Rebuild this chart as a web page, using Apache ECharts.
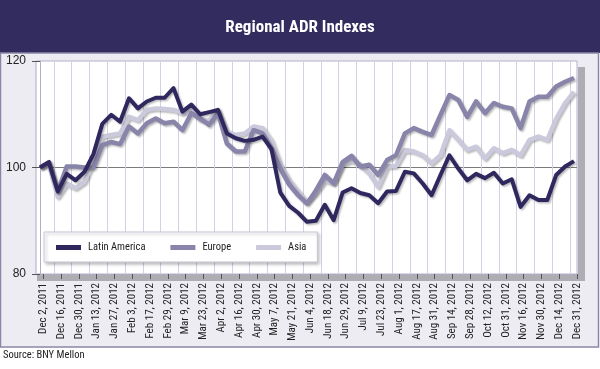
<!DOCTYPE html>
<html>
<head>
<meta charset="utf-8">
<script src="https://cdn.jsdelivr.net/npm/echarts@6.0.0/dist/echarts.min.js"></script>
<style>
html,body{margin:0;padding:0;background:#fff;}
#chart{width:600px;height:369px;}
</style>
</head>
<body>
<div id="chart"></div>
<script>
// Tick labels (every other weekly observation)
const tickLabels = ["Dec 2, 2011","Dec 16, 2011","Dec 30, 2011","Jan 13, 2012","Jan 27, 2012","Feb 3, 2012","Feb 17, 2012","Feb 29, 2012","Mar 9, 2012","Mar 23, 2012","Apr 2, 2012","Apr 16, 2012","Apr 30, 2012","May 7, 2012","May 21, 2012","Jun 4, 2012","Jun 18, 2012","Jun 29, 2012","Jul 9, 2012","Jul 23, 2012","Aug 1, 2012","Aug 17, 2012","Aug 31, 2012","Sep 14, 2012","Sep 28, 2012","Oct 12, 2012","Oct 31, 2012","Nov 16, 2012","Nov 30, 2012","Dec 14, 2012","Dec 31, 2012"];

// Weekly index values
const latinAmerica = [100.0,101.0,95.5,98.8,97.6,99.2,102.5,108.2,109.9,108.6,
  113.0,111.1,112.4,113.1,113.1,114.9,110.5,111.8,110.0,110.4,
  110.8,106.4,105.5,105.0,105.2,105.8,103.5,95.3,92.8,91.5,
  89.8,90.0,93.0,90.1,95.3,96.1,95.2,94.8,93.3,95.5,
  95.6,99.2,98.9,97.0,94.8,98.6,102.3,99.8,97.6,98.8,
  98.0,99.0,97.0,97.8,92.6,94.8,93.9,93.9,98.6,100.2,101.2];
const europe = [100.0,101.0,95.5,100.2,100.2,100.0,100.0,104.2,104.8,104.4,
  107.7,106.4,108.3,109.2,108.3,108.6,107.0,110.2,109.2,108.0,
  110.2,104.5,103.0,103.0,107.0,106.4,103.5,99.8,96.8,94.8,
  93.2,95.7,98.6,97.0,101.0,102.2,100.2,100.5,98.6,101.4,
  102.3,106.4,107.4,106.7,106.1,109.9,113.6,112.7,109.5,112.4,
  110.2,112.1,111.4,111.1,107.4,112.4,113.3,113.3,115.2,116.1,116.8];
const asia = [100.0,100.5,94.5,97.0,96.1,97.3,101.1,105.8,106.1,106.4,
  109.5,108.9,110.8,111.1,111.0,110.8,110.2,110.8,109.0,108.8,
  110.8,106.7,106.1,106.4,107.7,107.4,105.0,100.5,97.6,95.5,
  93.5,95.2,97.6,97.0,100.5,101.3,100.5,98.9,96.4,100.2,
  100.3,103.3,103.0,102.3,100.8,102.3,107.0,105.2,103.3,103.9,
  101.7,103.6,102.7,103.3,102.3,105.2,105.8,105.2,109.2,112.1,114.2];

const FONT = "'Roboto Condensed', 'Roboto', sans-serif";
const colors = { la: '#2f285f', eu: '#8985aa', as: '#cbc9dc' };

const toPairs = arr => arr.map((v, i) => [i, v]);
const lineShadow = { shadowColor: 'rgba(0,0,0,0.28)', shadowBlur: 2, shadowOffsetX: 1.5, shadowOffsetY: 1.5 };

const chart = echarts.init(document.getElementById('chart'), null, { renderer: 'canvas' });
chart.setOption({
  backgroundColor: '#ffffff',
  animation: false,
  title: {
    text: 'Regional ADR Indexes',
    left: 'center',
    top: 14,
    textStyle: { color: '#ffffff', fontSize: 17, fontWeight: 'bold', fontFamily: FONT }
  },
  graphic: [
    { type: 'rect', z: -10, shape: { x: 0, y: 0, width: 600, height: 53 }, style: { fill: '#332c5f' } },
    { type: 'rect', z: -10, shape: { x: 0.5, y: 53, width: 598, height: 294 }, style: { fill: '#edecf2', stroke: '#8a86a8', lineWidth: 1.5 } },
    { type: 'rect', z: -5, shape: { x: 577, y: 67, width: 8, height: 214 }, style: { fill: '#aeadb4' } },
    { type: 'rect', z: -5, shape: { x: 37, y: 274, width: 548, height: 7 }, style: { fill: '#aeadb4' } },
    { type: 'text', z: 5, left: 3, top: 350, style: { text: 'Source: BNY Mellon', fill: '#222', font: '10.5px ' + FONT } }
  ],
  legend: {
    left: 44,
    top: 232,
    orient: 'horizontal',
    icon: 'rect',
    itemWidth: 25,
    itemHeight: 5,
    itemGap: 25,
    padding: [10, 11, 9, 12],
    backgroundColor: '#ffffff',
    borderColor: '#c9c7d8',
    borderWidth: 1,
    shadowColor: 'rgba(0,0,0,0.25)',
    shadowBlur: 3,
    shadowOffsetX: 2,
    shadowOffsetY: 2,
    textStyle: { fontSize: 10.5, color: '#222', fontFamily: FONT, padding: [0, 0, 0, 2] },
    data: ['Latin America', 'Europe', 'Asia']
  },
  grid: {
    left: 36, right: 23, top: 61, bottom: 95,
    show: true,
    backgroundColor: '#ffffff',
    borderColor: '#b3aecb',
    borderWidth: 1
  },
  xAxis: [
    {
      type: 'value',
      min: -0.45,
      max: 60.34,
      interval: 2,
      axisLine: { show: false },
      axisTick: { show: false },
      axisLabel: { show: false },
      splitLine: { show: true, lineStyle: { color: '#d3d0e3', width: 1 } }
    },
    {
      type: 'value',
      position: 'bottom',
      min: -0.41,
      max: 30,
      axisLine: { show: false },
      splitLine: { show: false },
      axisTick: {
        show: true, length: 5, inside: false,
        customValues: tickLabels.map((_, i) => i),
        lineStyle: { color: '#555', width: 1 }
      },
      axisLabel: {
        show: true,
        rotate: 90,
        margin: 9,
        customValues: tickLabels.map((_, i) => i),
        formatter: v => tickLabels[Math.round(v)] || '',
        fontSize: 11,
        color: '#222',
        fontFamily: FONT
      }
    }
  ],
  yAxis: {
    type: 'value',
    min: 80,
    max: 120,
    interval: 20,
    axisLine: { show: true, lineStyle: { color: '#b3aecb' } },
    axisTick: { show: true, length: 8, lineStyle: { color: '#555' } },
    axisLabel: { margin: 10, fontSize: 12, color: '#222', fontFamily: "'Liberation Sans', sans-serif" },
    splitLine: { show: true, lineStyle: { color: ['rgba(0,0,0,0)', '#7a7a7a', 'rgba(0,0,0,0)'], width: 1 } }
  },
  series: [
    {
      name: 'Asia', type: 'line', xAxisIndex: 0, symbol: 'none', data: toPairs(asia),
      itemStyle: { color: colors.as },
      lineStyle: Object.assign({ color: colors.as, width: 4.5, join: 'round' }, lineShadow)
    },
    {
      name: 'Europe', type: 'line', xAxisIndex: 0, symbol: 'none', data: toPairs(europe),
      itemStyle: { color: colors.eu },
      lineStyle: Object.assign({ color: colors.eu, width: 4.5, join: 'round' }, lineShadow)
    },
    {
      name: 'Latin America', type: 'line', xAxisIndex: 0, symbol: 'none', data: toPairs(latinAmerica),
      itemStyle: { color: colors.la },
      lineStyle: Object.assign({ color: colors.la, width: 4, join: 'round' }, lineShadow)
    }
  ]
});
</script>
</body>
</html>
